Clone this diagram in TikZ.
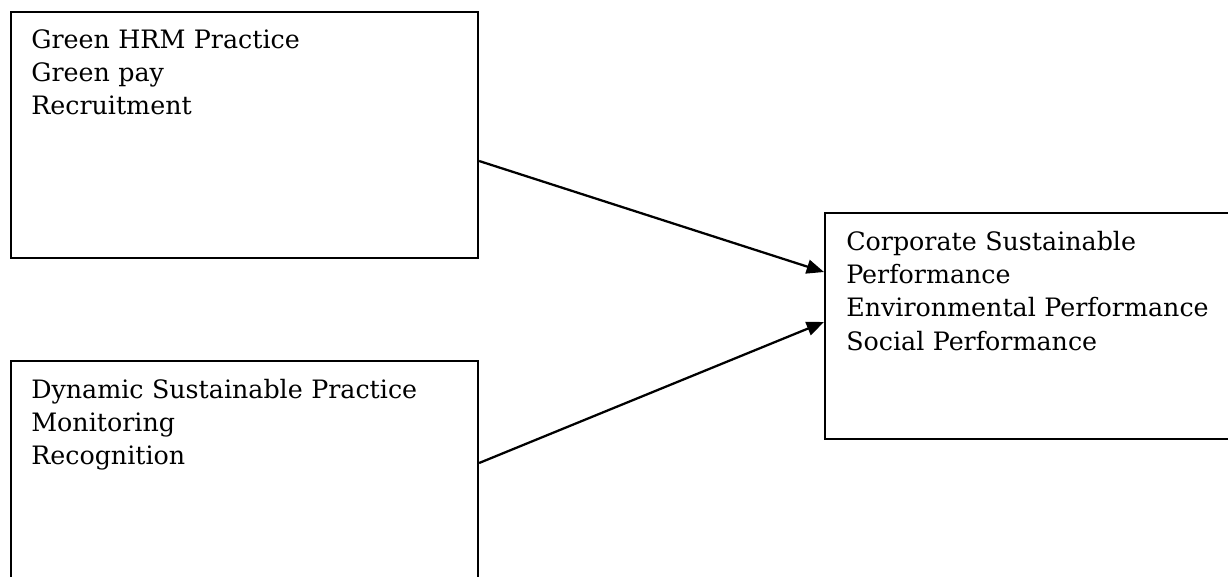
\documentclass[tikz,border=0pt]{standalone}
\usepackage{fontspec}
\setmainfont{DejaVu Serif}
\usetikzlibrary{arrows.meta,calc}
\begin{document}
\begin{tikzpicture}[x=0.75pt,y=-0.75pt,
  box/.style={draw=black,line width=1.6pt,rectangle,anchor=north west,inner sep=0pt},
  label/.style={anchor=base west,inner sep=0pt,align=left,text width=300pt,
    font=\fontsize{19pt}{25pt}\selectfont},
  conn/.style={line width=1.7pt,-{Triangle[length=13pt,width=10.5pt]}}]
\useasboundingbox (0,0) rectangle (1228,576);
\clip (0,0) rectangle (1228,576);
\node[box,minimum width=350.25pt,minimum height=184.5pt] (b1) at (10,11) {};
\node[box,minimum width=350.25pt,minimum height=200pt] (b2) at (10,360) {};
\node[box,minimum width=315pt,minimum height=169.5pt] (b3) at (824,212) {};
\node[label] (t1) at (31,48) {Green HRM Practice\\Green pay\\Recruitment};
\node[label] (t2) at (31,398) {Dynamic Sustainable Practice\\Monitoring\\Recognition};
\node[label] (t3) at (846,250) {Corporate Sustainable\\Performance\\Environmental Performance\\Social Performance};
\coordinate (s1) at ($(b1.north east)+(0,150)$);
\coordinate (e1) at ($(b3.north west)+(0,60)$);
\coordinate (s2) at ($(b2.north east)+(0,103)$);
\coordinate (e2) at ($(b3.north west)+(0,110)$);
\draw[conn] (s1) -- (e1);
\draw[conn] (s2) -- (e2);
\end{tikzpicture}
\end{document}
